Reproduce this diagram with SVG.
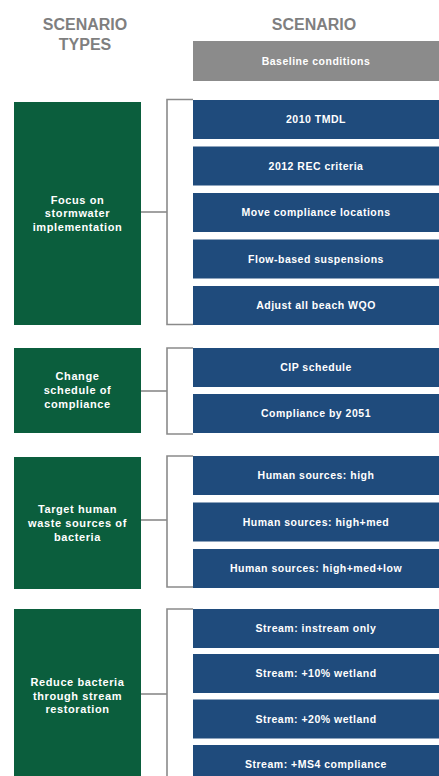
<svg xmlns="http://www.w3.org/2000/svg" width="439" height="776" viewBox="0 0 439 776">
<style>
.hdr{font-family:"Liberation Sans",Arial,sans-serif;font-weight:bold;font-size:16px;fill:#7f7f7f;text-anchor:middle}
.type rect{fill:#0b5e3d}
.type text{font-family:"Liberation Sans",Arial,sans-serif;font-weight:bold;font-size:11px;fill:#ffffff;text-anchor:middle;letter-spacing:0.6px}
.sc rect{fill:#1f4b7c}
.sc text{font-family:"Liberation Sans",Arial,sans-serif;font-weight:bold;font-size:10.5px;fill:#ffffff;text-anchor:middle;letter-spacing:0.5px}
.base rect{fill:#8b8b8b}
.conn path{fill:none;stroke:#8a8a8a;stroke-width:1.6}
</style>
<rect width="439" height="776" fill="#ffffff"/>
<g id="headers">
<text class="hdr" x="85" y="30">SCENARIO</text>
<text class="hdr" x="85" y="50">TYPES</text>
<text class="hdr" x="314" y="30">SCENARIO</text>
</g>
<g id="connectors" class="conn">
<path d="M193,99.5 H167 V324.5 H193"/>
<path d="M141,212 H167"/>
<path d="M193,348 H167 V434 H193"/>
<path d="M141,391 H167"/>
<path d="M193,456 H167 V587 H193"/>
<path d="M141,520 H167"/>
<path d="M193,609 H167 V780"/>
<path d="M141,694 H167"/>
</g>
<g id="baseline" class="sc base"><rect x="193" y="41" width="246" height="40"/><text x="316" y="64.5">Baseline conditions</text></g>
<g id="type1" class="type"><rect x="14" y="102" width="127" height="223"/><text x="77.5" y="203.5">Focus on</text><text x="77.5" y="217">stormwater</text><text x="77.5" y="230.5">implementation</text></g>
<g id="type2" class="type"><rect x="14" y="348" width="127" height="85"/><text x="77.5" y="380">Change</text><text x="77.5" y="394">schedule of</text><text x="77.5" y="408">compliance</text></g>
<g id="type3" class="type"><rect x="14" y="457" width="127" height="132"/><text x="77.5" y="513">Target human</text><text x="77.5" y="527">waste sources of</text><text x="77.5" y="541">bacteria</text></g>
<g id="type4" class="type"><rect x="14" y="609" width="127" height="172"/><text x="77.5" y="686">Reduce bacteria</text><text x="77.5" y="699.5">through stream</text><text x="77.5" y="713">restoration</text></g>
<g id="s1" class="sc"><rect x="193" y="100" width="246" height="39"/><text x="316" y="123.3">2010 TMDL</text></g>
<g id="s2" class="sc"><rect x="193" y="146.5" width="246" height="39"/><text x="316" y="169.8">2012 REC criteria</text></g>
<g id="s3" class="sc"><rect x="193" y="193" width="246" height="39"/><text x="316" y="216.3">Move compliance locations</text></g>
<g id="s4" class="sc"><rect x="193" y="239.5" width="246" height="39"/><text x="316" y="262.8">Flow-based suspensions</text></g>
<g id="s5" class="sc"><rect x="193" y="286" width="246" height="39"/><text x="316" y="309.3">Adjust all beach WQO</text></g>
<g id="s6" class="sc"><rect x="193" y="348" width="246" height="39"/><text x="316" y="371.3">CIP schedule</text></g>
<g id="s7" class="sc"><rect x="193" y="394" width="246" height="39"/><text x="316" y="417.3">Compliance by 2051</text></g>
<g id="s8" class="sc"><rect x="193" y="456" width="246" height="39"/><text x="316" y="479.3">Human sources: high</text></g>
<g id="s9" class="sc"><rect x="193" y="502.5" width="246" height="39"/><text x="316" y="525.8">Human sources: high+med</text></g>
<g id="s10" class="sc"><rect x="193" y="549" width="246" height="39"/><text x="316" y="572.3">Human sources: high+med+low</text></g>
<g id="s11" class="sc"><rect x="193" y="609" width="246" height="39"/><text x="316" y="632.3">Stream: instream only</text></g>
<g id="s12" class="sc"><rect x="193" y="654" width="246" height="39"/><text x="316" y="677.3">Stream: +10% wetland</text></g>
<g id="s13" class="sc"><rect x="193" y="699.5" width="246" height="39"/><text x="316" y="722.8">Stream: +20% wetland</text></g>
<g id="s14" class="sc"><rect x="193" y="745" width="246" height="39"/><text x="316" y="768.3">Stream: +MS4 compliance</text></g>
</svg>
